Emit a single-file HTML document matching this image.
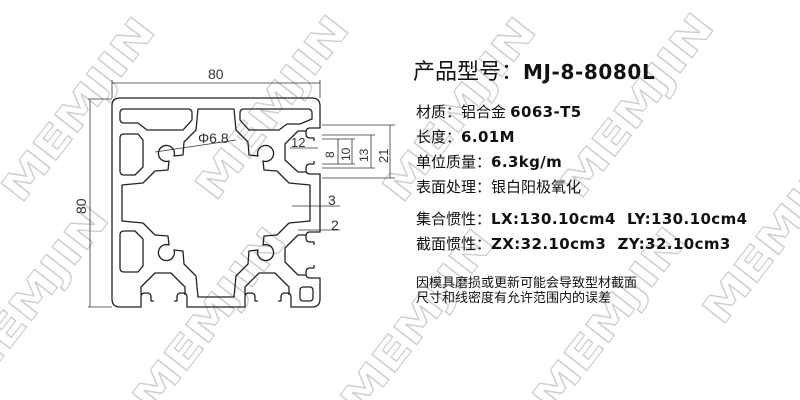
<!DOCTYPE html>
<html><head><meta charset="utf-8"><style>
html,body{margin:0;padding:0;background:#fff;width:800px;height:400px;overflow:hidden;}
body{position:relative;font-family:"Liberation Sans","Noto Sans CJK SC",sans-serif;}
b{font-family:"DejaVu Sans",sans-serif;font-weight:bold;letter-spacing:0.4px;}
</style></head><body>
<svg width="800" height="400" viewBox="0 0 800 400" xmlns="http://www.w3.org/2000/svg" style="position:absolute;left:0;top:0;overflow:hidden">
<g font-family="DejaVu Sans, sans-serif" font-weight="bold" font-size="40" fill="none" stroke="#cfcfcf" stroke-width="1.2" text-anchor="middle">
<text transform="translate(89,118) rotate(-52)" textLength="220" lengthAdjust="spacingAndGlyphs">MEMJIN</text>
<text transform="translate(283,116) rotate(-52)" textLength="220" lengthAdjust="spacingAndGlyphs">MEMJIN</text>
<text transform="translate(470,118) rotate(-52)" textLength="220" lengthAdjust="spacingAndGlyphs">MEMJIN</text>
<text transform="translate(648,114) rotate(-52)" textLength="220" lengthAdjust="spacingAndGlyphs">MEMJIN</text>
<text transform="translate(790,240) rotate(-52)" textLength="220" lengthAdjust="spacingAndGlyphs">MEMJIN</text>
<text transform="translate(43,306) rotate(-52)" textLength="220" lengthAdjust="spacingAndGlyphs">MEMJIN</text>
<text transform="translate(220,328) rotate(-52)" textLength="220" lengthAdjust="spacingAndGlyphs">MEMJIN</text>
<text transform="translate(428,330) rotate(-52)" textLength="220" lengthAdjust="spacingAndGlyphs">MEMJIN</text>
<text transform="translate(620,328) rotate(-52)" textLength="220" lengthAdjust="spacingAndGlyphs">MEMJIN</text>
</g>
<g fill="none" stroke="#222" stroke-width="1.3" stroke-linejoin="round">
<path d="M314 141 V138 H310 Q306 138 306 134 V132 Q306 128 310 128 H320 V106 Q320 98 312 98 H120 Q112 98 112 106 V299 Q112 307 120 307 H141 V297 Q141 293 145 293 H147 Q151 293 151 297 V301 H154"/>
<path d="M174 301 H177 V297 Q177 293 181 293 H183 Q187 293 187 297 V307 H245 V297 Q245 293 249 293 H251 Q255 293 255 297 V301 H258"/>
<path d="M278 301 H281 V297 Q281 293 285 293 H287 Q291 293 291 297 V307 H312 Q320 307 320 299 V278 H310 Q306 278 306 274 V272 Q306 268 310 268 H314 V265"/>
<path d="M314 245 V242 H310 Q306 242 306 238 V236 Q306 232 310 232 H320 V174 H310 Q306 174 306 170 V168 Q306 164 310 164 H314 V161"/>
<path d="M124 109 H188 Q192 109 192 113 V120 L183 130 H147 L138 123 H124 Q120 123 120 119 V113 Q120 109 124 109 Z"/>
<path d="M244 109 H308 Q312 109 312 113 V119 L300 124 H287 L279 130 H249 L240 120 V113 Q240 109 244 109 Z"/>
<path d="M124 134 H138 L143 140 V167 L135 175 H124 Q120 175 120 171 V138 Q120 134 124 134 Z"/>
<path d="M124 272 H138 L143 266 V239 L135 231 H124 Q120 231 120 235 V268 Q120 272 124 272 Z"/>
<rect x="300" y="287" width="13" height="14" rx="3"/>
<path d="M198 109 H234 L236 130 L248 142 L249 155 L258 156 A8 8 0 1 1 263 161 L264 170 L277 171 L289 183 L310 185 V221 L289 223 L277 235 L264 236 L263 245 A8 8 0 1 1 258 250 L249 251 L248 264 L236 276 L234 297 H198 L196 276 L184 264 L183 251 L174 250 A8 8 0 1 1 169 245 L168 236 L155 235 L143 223 L122 221 V185 L143 183 L155 171 L168 170 L169 161 A8 8 0 1 1 174 156 L183 155 L184 142 L196 130 Z"/>
<path d="M306 131 H298 L285 144 V160 L298 172 H306"/>
<path d="M306 235 H298 L285 248 V262 L298 275 H306"/>
<path d="M245 295 V287 L259 273 H275 L289 287 V295"/>
<path d="M141 295 V287 L155 273 H171 L185 287 V295"/>
</g>
<g stroke="#333" stroke-width="0.8" fill="none">
<line x1="112" y1="83" x2="320" y2="83"/>
<line x1="112" y1="80" x2="112" y2="98"/><line x1="320" y1="80" x2="320" y2="98"/>
<line x1="90" y1="100" x2="90" y2="307"/>
<line x1="88" y1="99" x2="112" y2="99"/><line x1="88" y1="307" x2="112" y2="307"/>
<line x1="155" y1="152" x2="236" y2="140"/>
<line x1="322" y1="125" x2="395" y2="125"/><line x1="322" y1="135" x2="375" y2="135"/>
<line x1="322" y1="168" x2="375" y2="168"/><line x1="322" y1="178" x2="395" y2="178"/>
<line x1="322" y1="139" x2="355" y2="139"/><line x1="322" y1="164" x2="355" y2="164"/>
<line x1="338" y1="139" x2="338" y2="164"/><line x1="352" y1="139" x2="352" y2="164"/>
<line x1="371" y1="135" x2="371" y2="168"/><line x1="390" y1="125" x2="390" y2="178"/>
<line x1="290" y1="148" x2="318" y2="148"/>
<line x1="292" y1="206" x2="340" y2="206"/>
<line x1="298" y1="230" x2="340" y2="230"/>
</g>
<g font-family="Liberation Sans, sans-serif" font-size="14" fill="#333">
<text x="208" y="79">80</text>
<text transform="translate(86,214) rotate(-90)">80</text>
<text x="198" y="143">Φ6.8</text>
<text x="291" y="147" font-size="13">12</text>
<text transform="translate(334,158) rotate(-90)" font-size="12">8</text>
<text transform="translate(350,161) rotate(-90)" font-size="12">10</text>
<text transform="translate(368,162) rotate(-90)" font-size="12">13</text>
<text transform="translate(388,163) rotate(-90)" font-size="13">21</text>
<text x="328" y="205">3</text>
<text x="331" y="230">2</text>
</g>
</svg>
<div style="position:absolute;left:413px;top:58px;font-size:22px;line-height:28px;color:#111;white-space:nowrap">产品型号：<b style="font-size:20px;letter-spacing:0.6px">MJ-8-8080L</b></div>
<div style="position:absolute;left:416px;top:100px;font-size:15px;line-height:25px;color:#111;white-space:nowrap">
<div>材质：铝合金 <b>6063-T5</b></div>
<div>长度：<b>6.01M</b></div>
<div>单位质量：<b>6.3kg/m</b></div>
<div>表面处理：银白阳极氧化</div>
<div style="margin-top:7px">集合惯性：<b>LX:130.10cm4&nbsp; LY:130.10cm4</b></div>
<div>截面惯性：<b>ZX:32.10cm3&nbsp; ZY:32.10cm3</b></div>
</div>
<div style="position:absolute;left:416px;top:275px;font-size:13px;line-height:15px;color:#111;white-space:nowrap">因模具磨损或更新可能会导致型材截面<br>尺寸和线密度有允许范围内的误差</div>
</body></html>
